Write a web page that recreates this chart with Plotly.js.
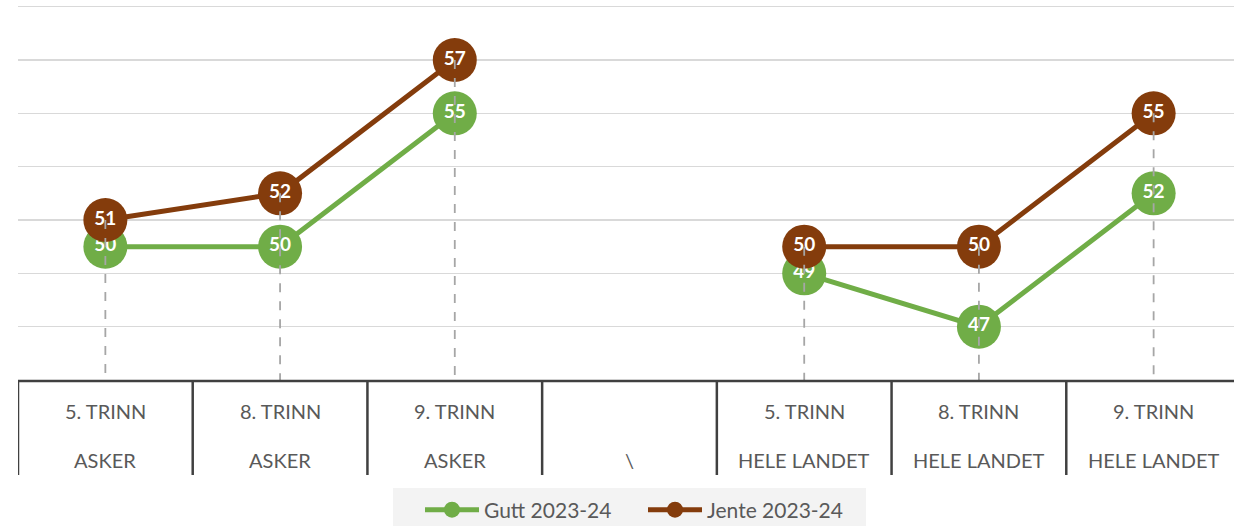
<!DOCTYPE html>
<html>
<head>
<meta charset="utf-8">
<script src="https://cdn.plot.ly/plotly-3.0.1.min.js"></script>
<style>html,body{margin:0;padding:0;background:#fff;overflow:hidden;}#chart{width:1234px;height:526px;}</style>
</head>
<body>
<div id="chart"></div>
<script>
const labelRow1 = ["5. TRINN", "8. TRINN", "9. TRINN", "", "5. TRINN", "8. TRINN", "9. TRINN"];
const labelRow2 = ["ASKER", "ASKER", "ASKER", "\\", "HELE LANDET", "HELE LANDET", "HELE LANDET"];
const gutt = [50, 50, 55, null, 49, 47, 52];
const jente = [51, 52, 57, null, 50, 50, 55];
const seriesNames = ["Gutt 2023-24", "Jente 2023-24"];

const idx = labelRow1.map((_, i) => i);
const yMin = 45, yMax = 59.1;
const green = "#70AD47", brown = "#843C0C";
const font = "Lato, 'Open Sans', sans-serif";

const W = 1234, H = 526, mL = 18, mT = 4, plotBottom = 380;
const plotH = plotBottom - mT, plotW = W - mL;
const py = p => (plotBottom - p) / plotH;   // pixel row -> paper y
const px = p => (p - mL) / plotW;           // pixel col -> paper x

// drop lines from highest point down to axis
const dx = [], dy = [];
idx.forEach(i => {
  const vals = [gutt[i], jente[i]].filter(v => v !== null);
  if (vals.length) { dx.push(i, i, null); dy.push(Math.max(...vals), yMin, null); }
});

function series(name, vals, color) {
  return {
    type: "scatter", mode: "lines+markers+text", name: name,
    x: idx, y: vals, text: vals.map(v => v === null ? "" : String(v)),
    textposition: "middle center",
    textfont: {family: font, size: 19, color: "#ffffff", weight: 700},
    line: {color: color, width: 5}, marker: {color: color, size: 44},
    connectgaps: false, cliponaxis: false, hoverinfo: "skip"
  };
}

const traces = [
  series(seriesNames[0], gutt, green),
  series(seriesNames[1], jente, brown),
  {type: "scatter", mode: "lines", x: dx, y: dy, showlegend: false, hoverinfo: "skip",
   line: {color: "#a6a6a6", width: 1.8, dash: "dash"}}
];

const shapes = [];
// legend background band
shapes.push({type: "rect", xref: "paper", yref: "paper", x0: px(393), x1: px(866), y0: py(526), y1: py(488),
  fillcolor: "#f3f3f3", line: {width: 0}, layer: "below"});
for (let i = 0; i <= labelRow1.length; i++) {
  shapes.push({type: "line", xref: "x", yref: "paper", x0: i - 0.5, x1: i - 0.5, y0: 0, y1: py(475),
    line: {color: "#404040", width: 2.5}});
}
shapes.push({type: "line", xref: "paper", yref: "paper", x0: 0, x1: 1, y0: py(381), y1: py(381),
  line: {color: "#404040", width: 2.5}});

const annotations = [];
idx.forEach(i => {
  annotations.push({xref: "x", yref: "paper", x: i, y: py(411), text: labelRow1[i], showarrow: false,
    yanchor: "middle", font: {family: font, size: 20, color: "#595959"}});
  annotations.push({xref: "x", yref: "paper", x: i, y: py(460), text: labelRow2[i], showarrow: false,
    yanchor: "middle", font: {family: font, size: 20, color: "#595959"}});
});

const layout = {
  width: W, height: H,
  margin: {l: mL, r: 0, t: mT, b: H - plotBottom, autoexpand: false},
  paper_bgcolor: "#ffffff", plot_bgcolor: "#ffffff",
  showlegend: true,
  legend: {orientation: "h", x: px(420), xanchor: "left", y: py(510), yanchor: "middle",
    bgcolor: "rgba(0,0,0,0)", font: {family: font, size: 21, color: "#595959"},
    entrywidth: 154, entrywidthmode: "pixels", itemwidth: 54, traceorder: "normal"},
  xaxis: {range: [-0.5, 6.46], showgrid: false, zeroline: false, showticklabels: false,
    showline: false, ticks: "", fixedrange: true},
  yaxis: {range: [yMin, yMax], tick0: 45, dtick: 2, showgrid: true, gridcolor: "#d9d9d9", gridwidth: 1.5,
    zeroline: false, showticklabels: false, showline: false, ticks: "", fixedrange: true},
  shapes: shapes, annotations: annotations
};

Plotly.newPlot("chart", traces, layout, {displayModeBar: false, staticPlot: true});
</script>
</body>
</html>
